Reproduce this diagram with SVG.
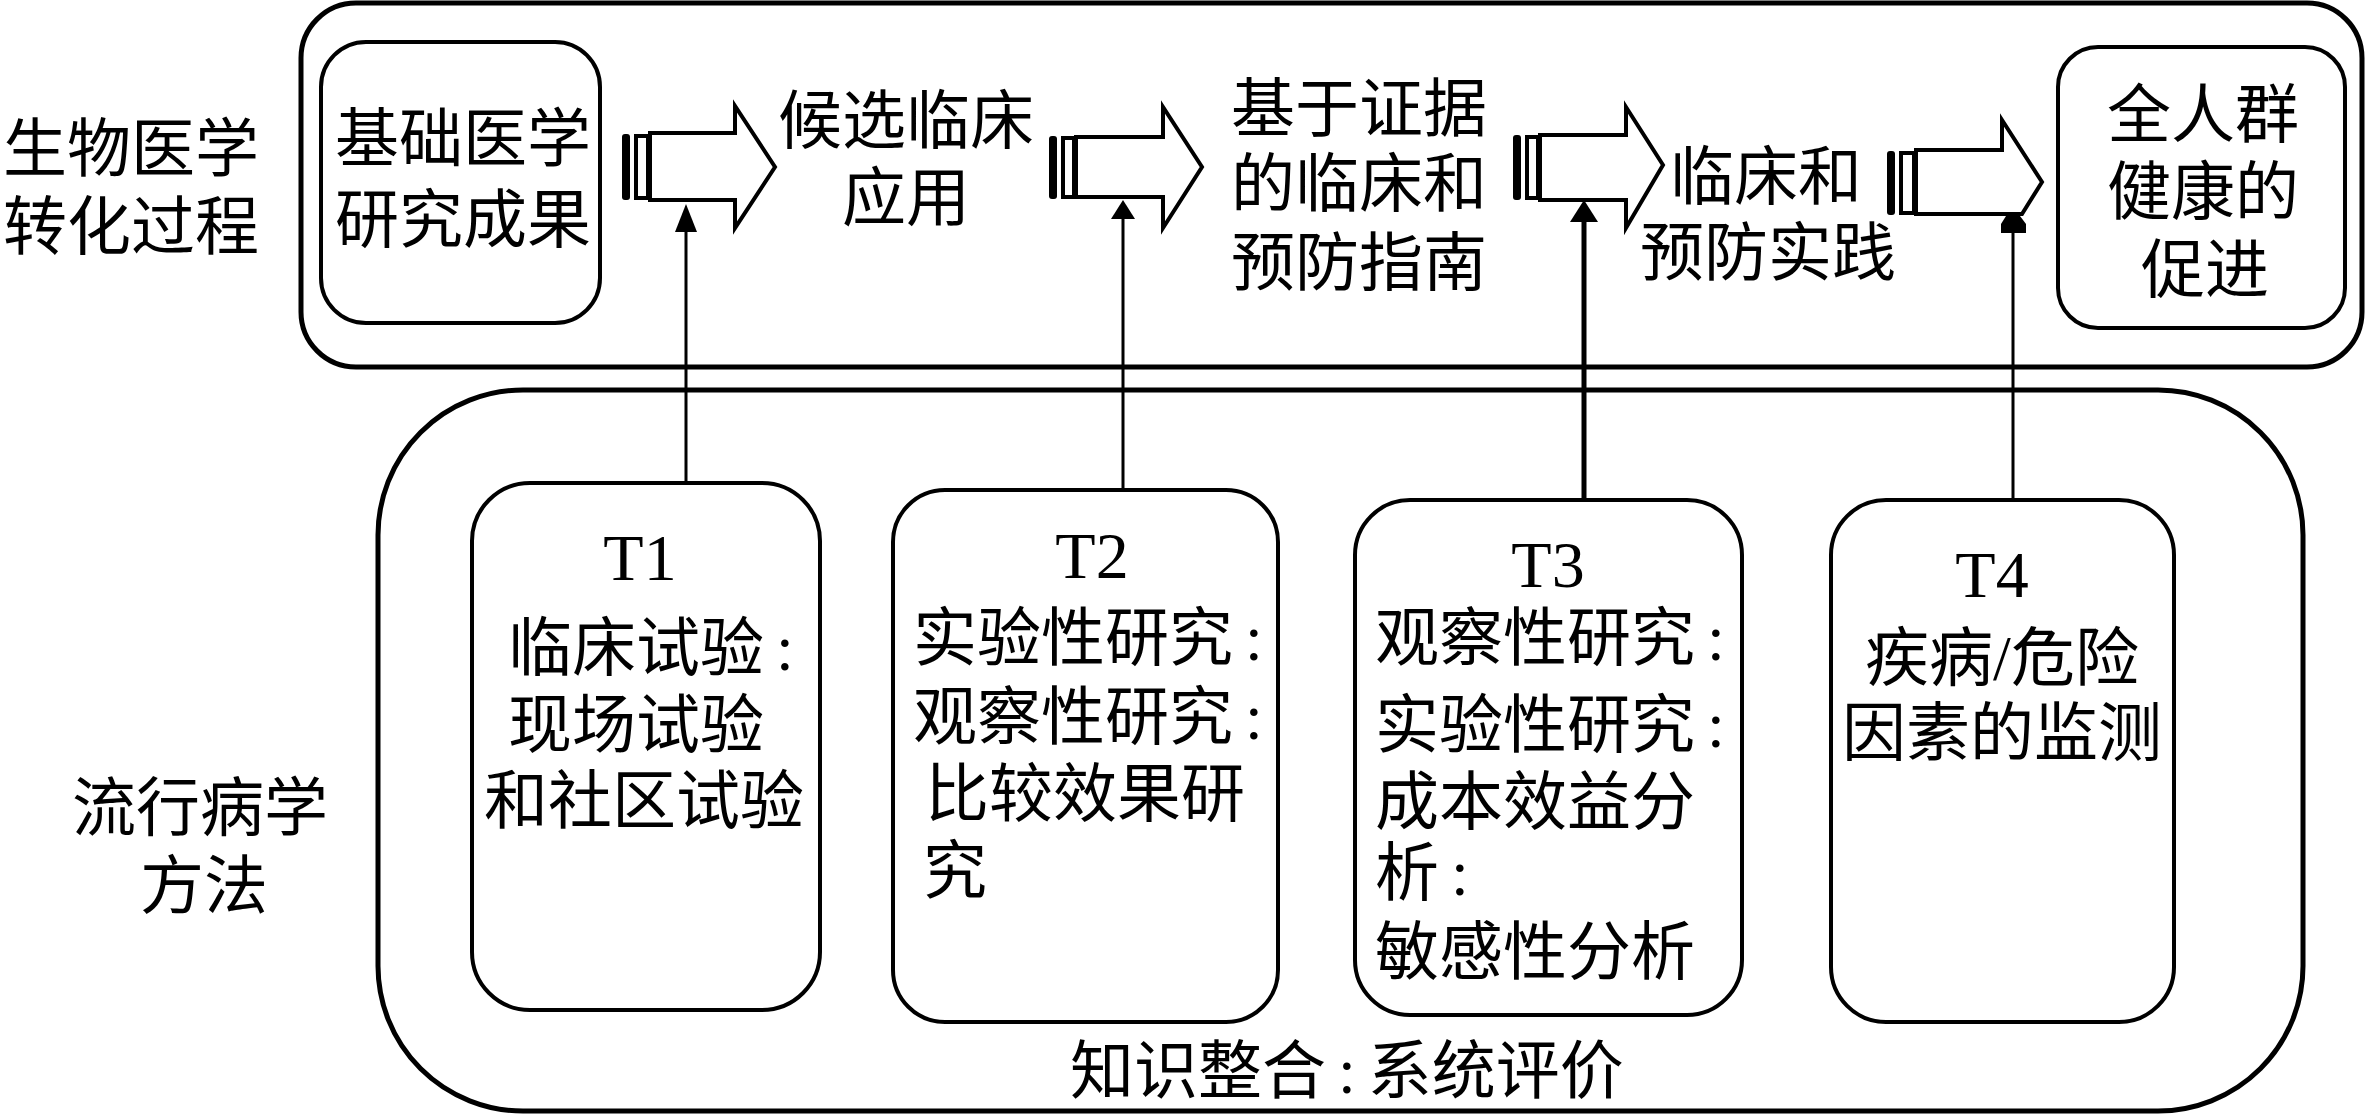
<svg xmlns="http://www.w3.org/2000/svg" width="2367" height="1116" viewBox="0 0 2367 1116">
<style>
.box{fill:none;stroke:#000;stroke-width:4}
.outer{fill:none;stroke:#000;stroke-width:5}
.zh{font-family:"Liberation Serif","Noto Sans CJK SC","Noto Sans CJK JP",serif;font-size:64px;fill:#000}
.mid{text-anchor:middle}
.lat{font-family:"Liberation Serif","Times New Roman",serif;font-size:66px;fill:#000;text-anchor:middle}
.arr{fill:#fff;stroke:#000;stroke-width:4;stroke-linejoin:miter}
.cap{fill:#000}
.capo{fill:#fff;stroke:#000;stroke-width:4}
.ln{stroke:#000;stroke-width:3;fill:none}
.ah{fill:#000}
</style>
<rect width="2367" height="1116" fill="#fff"/>

<g id="label-top">
<text class="zh mid"><tspan x="131" y="171">生物医学</tspan><tspan x="131" y="249">转化过程</tspan></text>
</g>
<g id="label-bottom">
<text class="zh mid"><tspan x="200" y="830">流行病学</tspan><tspan x="204" y="908">方法</tspan></text>
</g>

<g id="translation-process">
<rect class="outer" x="301" y="3" width="2061" height="364" rx="55" ry="55"/>
</g>
<g id="epi-methods">
<rect class="outer" x="378" y="390" width="1925" height="721" rx="145" ry="145"/>
</g>

<g id="basic-research">
<rect class="box" x="321" y="42" width="279" height="281" rx="45" ry="45"/>
<text class="zh mid"><tspan x="463" y="161">基础医学</tspan><tspan x="463" y="242">研究成果</tspan></text>
</g>

<g id="candidate">
<text class="zh mid"><tspan x="906" y="143">候选临床</tspan><tspan x="906" y="220">应用</tspan></text>
</g>

<g id="guidelines">
<text class="zh mid"><tspan x="1359" y="131">基于证据</tspan><tspan x="1359" y="206">的临床和</tspan><tspan x="1359" y="285">预防指南</tspan></text>
</g>

<g id="practice">
<text class="zh mid"><tspan x="1766" y="199">临床和</tspan><tspan x="1768" y="275">预防实践</tspan></text>
</g>

<g id="population-health">
<rect class="box" x="2058" y="47" width="287" height="281" rx="40" ry="40"/>
<text class="zh mid"><tspan x="2203" y="137">全人群</tspan><tspan x="2203" y="214">健康的</tspan><tspan x="2205" y="292">促进</tspan></text>
</g>

<g id="T1">
<rect class="box" x="472" y="483" width="348" height="527" rx="58" ry="58"/>
<text class="lat" x="640" y="580">T1</text>
<text class="zh"><tspan x="508" y="670">临床试验<tspan dx="12">:</tspan></tspan><tspan x="508" y="747">现场试验</tspan><tspan x="484" y="823">和社区试验</tspan></text>
</g>

<g id="T2">
<rect class="box" x="893" y="490" width="385" height="532" rx="52" ry="52"/>
<text class="lat" x="1092" y="578">T2</text>
<text class="zh"><tspan x="913" y="660">实验性研究<tspan dx="12">:</tspan></tspan><tspan x="913" y="739">观察性研究<tspan dx="12">:</tspan></tspan><tspan x="925" y="816">比较效果研</tspan><tspan x="923" y="893">究</tspan></text>
</g>

<g id="T3">
<rect class="box" x="1355" y="500" width="387" height="515" rx="55" ry="55"/>
<text class="lat" x="1548" y="587">T3</text>
<text class="zh"><tspan x="1375" y="660">观察性研究<tspan dx="12">:</tspan></tspan><tspan x="1375" y="747">实验性研究<tspan dx="12">:</tspan></tspan><tspan x="1375" y="824">成本效益分</tspan><tspan x="1375" y="895">析<tspan dx="12">:</tspan></tspan><tspan x="1375" y="974">敏感性分析</tspan></text>
</g>

<g id="T4">
<rect class="box" x="1831" y="500" width="343" height="522" rx="55" ry="55"/>
<text class="lat" x="1992" y="597">T4</text>
<text class="zh mid"><tspan x="2002" y="680">疾病/危险</tspan><tspan x="2002" y="755">因素的监测</tspan></text>
</g>

<g id="synthesis">
<text class="zh" x="1070" y="1093">知识整合<tspan dx="12">:</tspan><tspan dx="12">系统评价</tspan></text>
</g>

<g id="connectors">
<g id="arrow1">
<rect class="cap" x="622" y="134" width="8" height="66" rx="3"/>
<rect class="capo" x="636" y="136" width="12" height="62"/>
<path class="arr" d="M650,133 H735 V106 L775,167 L735,228 V200 H650 Z"/>
</g>
<g id="arrow2">
<rect class="cap" x="1049" y="136" width="8" height="63" rx="3"/>
<rect class="capo" x="1063" y="138" width="11" height="59"/>
<path class="arr" d="M1076,137 H1163 V107 L1202,167 L1163,228 V197 H1076 Z"/>
</g>
<g id="arrow3">
<rect class="cap" x="1513" y="135" width="8" height="65" rx="3"/>
<rect class="capo" x="1527" y="137" width="11" height="61"/>
<path class="arr" d="M1540,135 H1626 V107 L1663,165 L1626,228 V200 H1540 Z"/>
</g>
<g id="arrow4">
<rect class="cap" x="1887" y="151" width="8" height="64" rx="3"/>
<rect class="capo" x="1901" y="153" width="13" height="60"/>
<path class="arr" d="M1916,150 H2002 V120 L2042,182 L2022,214 H1916 Z"/>
</g>
<line class="ln" x1="686" y1="483" x2="686" y2="222"/>
<polygon class="ah" points="686,204 675,232 697,232"/>
<line class="ln" x1="1123" y1="490" x2="1123" y2="212"/>
<polygon class="ah" points="1123,200 1111,219 1135,219"/>
<line class="ln" x1="1584" y1="500" x2="1584" y2="212" style="stroke-width:5"/>
<polygon class="ah" points="1584,200 1570,222 1598,222"/>
<line class="ln" x1="2013" y1="500" x2="2013" y2="226"/>
<polygon class="ah" points="2006,216 2020,216 2026,224 2026,233 2001,233 2001,224"/>
</g>
</svg>
